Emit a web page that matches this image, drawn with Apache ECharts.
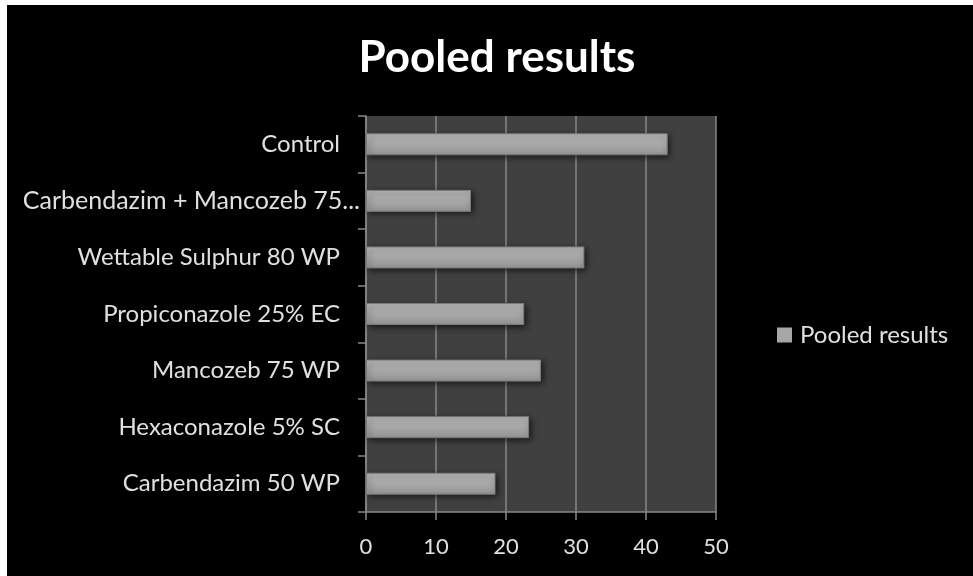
<!DOCTYPE html>
<html><head><meta charset="utf-8">
<script src="https://cdn.jsdelivr.net/npm/echarts@6/dist/echarts.min.js"></script>
<style>html,body{margin:0;padding:0;background:#000;}#c{width:973px;height:576px;}</style>
</head><body><div id="c"></div>
<script>
var categories = ["Control","Carbendazim + Mancozeb 75...","Wettable Sulphur 80 WP","Propiconazole 25% EC","Mancozeb 75 WP","Hexaconazole 5% SC","Carbendazim 50 WP"];
var pooled = [43.1, 15.0, 31.2, 22.6, 25.0, 23.3, 18.5];
var xTicks = {min: 0, max: 50, interval: 10};
var seriesName = "Pooled results";
var titleText = "Pooled results";

var chart = echarts.init(document.getElementById('c'), null, {renderer:'canvas'});
var font = "Lato, 'Open Sans', sans-serif";
chart.setOption({
  backgroundColor: '#000',
  animation: false,
  title: {text: titleText, left: 492, top: 31, textAlign: 'center',
    textStyle: {color: '#fff', fontSize: 44, fontWeight: 'bold', fontFamily: font}},
  legend: {data: [seriesName], left: 772, top: 318, icon: 'rect', itemWidth: 15, itemHeight: 15, itemGap: 6,
    itemStyle: {color: '#a6a6a6', borderWidth: 0, shadowBlur: 0},
    textStyle: {color: '#e0e0e0', fontSize: 24, fontFamily: font, padding: [0,0,0,3]}},
  grid: {left: 366, right: 257, top: 116, bottom: 64, backgroundColor: '#404040', show: true, borderWidth: 0},
  xAxis: {type: 'value', min: xTicks.min, max: xTicks.max, interval: xTicks.interval,
    axisLine: {show: true, lineStyle: {color: '#888', width: 1.5}},
    axisTick: {show: true, length: 8, lineStyle: {color: '#888', width: 1.5}},
    splitLine: {show: true, lineStyle: {color: '#888', width: 1.5}},
    axisLabel: {color: '#e0e0e0', fontSize: 22, fontFamily: font, margin: 24}},
  yAxis: {type: 'category', data: categories, inverse: true,
    axisLine: {show: true, lineStyle: {color: '#888', width: 1.5}},
    axisTick: {show: true, length: 8, lineStyle: {color: '#888', width: 1.5}},
    axisLabel: {color: '#e0e0e0', fontSize: 24, fontFamily: font, margin: 6,
      formatter: function (v) { return v.indexOf('...') >= 0 ? '{b|' + v + '}' : '{a|' + v + '}'; },
      rich: {
        a: {color: '#e0e0e0', fontSize: 24, fontFamily: font, padding: [0, 20, 0, 0]},
        b: {color: '#e0e0e0', fontSize: 25, fontFamily: font, padding: [0, 0, 0, 0]}
      }}},
  series: [{name: seriesName, type: 'bar', data: pooled, barWidth: 22,
    itemStyle: {
      color: new echarts.graphic.LinearGradient(0,0,0,1,[{offset:0,color:'#b8b8b8'},{offset:1,color:'#979797'}]),
      borderColor: '#7a7a7a', borderWidth: 1,
      shadowColor: 'rgba(0,0,0,0.6)', shadowBlur: 6, shadowOffsetX: 2, shadowOffsetY: 2}
  }],
  graphic: [
    {type:'rect', left:0, top:0, shape:{width:7, height:576}, style:{fill:'#fff'}, z: 100},
    {type:'rect', left:0, top:0, shape:{width:973, height:5}, style:{fill:'#fff'}, z: 100}
  ]
});
</script></body></html>
